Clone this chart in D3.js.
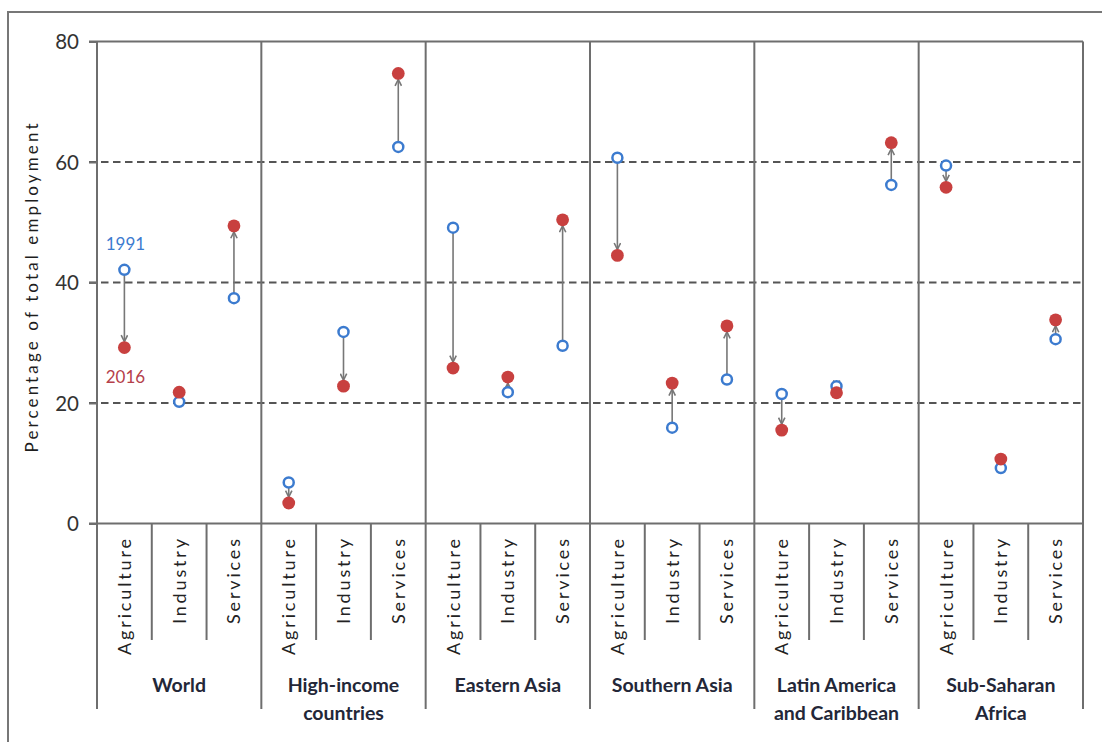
<!DOCTYPE html>
<html>
<head>
<meta charset="utf-8">
<script src="https://cdn.jsdelivr.net/npm/d3@7/dist/d3.min.js"></script>
<style>
  html, body { margin: 0; padding: 0; background: #fff; }
  svg { display: block; font-family: Lato, "Open Sans", sans-serif; }
</style>
</head>
<body>
<svg id="chart" width="1102" height="742"></svg>
<script>
// Employment share by sector, 1991 vs 2016
const regions = ["World", "High-income countries", "Eastern Asia", "Southern Asia",
                 "Latin America and Caribbean", "Sub-Saharan Africa"];
const regionLabelLines = [["World"], ["High-income", "countries"], ["Eastern Asia"],
                          ["Southern Asia"], ["Latin America", "and Caribbean"], ["Sub-Saharan", "Africa"]];
const sectors = ["Agriculture", "Industry", "Services"];
const values1991 = [
  [42.1, 20.2, 37.4],
  [6.8, 31.8, 62.5],
  [49.1, 21.8, 29.5],
  [60.7, 15.9, 23.9],
  [21.5, 22.8, 56.2],
  [59.4, 9.2, 30.6]
];
const values2016 = [
  [29.2, 21.8, 49.4],
  [3.4, 22.8, 74.7],
  [25.8, 24.3, 50.4],
  [44.5, 23.3, 32.8],
  [15.5, 21.7, 63.2],
  [55.8, 10.7, 33.8]
];
const yTicks = [0, 20, 40, 60, 80];
const gridTicks = [20, 40, 60];
const yearLabels = ["1991", "2016"];

const svg = d3.select("#chart");
const frameColor = "#6e6e6e";
const blue = "#3c7bcf";
const red = "#c8403f";

const plotLeft = 97, plotRight = 1083, plotTop = 41.5, axisY = 523.5;
const subBottom = 640, groupBottom = 709;

const y = d3.scaleLinear().domain([0, 80]).range([axisY, plotTop]);
const xGroup = d3.scaleBand().domain(regions).range([plotLeft, plotRight]);
const xSector = d3.scaleBand().domain(sectors).range([0, xGroup.bandwidth()]);

// table of points
const points = [];
regions.forEach((r, i) => sectors.forEach((s, j) => {
  points.push({
    region: r, sector: s,
    x: xGroup(r) + xSector(s) + xSector.bandwidth() / 2,
    v1: values1991[i][j], v2: values2016[i][j]
  });
}));

// outer frame
svg.append("rect")
  .attr("x", 8).attr("y", 12).attr("width", 1110).attr("height", 760)
  .attr("fill", "none").attr("stroke", "#777").attr("stroke-width", 2);

// dashed gridlines
svg.append("g").selectAll("line").data(gridTicks).join("line")
  .attr("x1", plotLeft - 8).attr("x2", plotRight)
  .attr("y1", d => y(d)).attr("y2", d => y(d))
  .attr("stroke", "#555").attr("stroke-width", 2)
  .attr("stroke-dasharray", "7.5,4.5");

// solid lines at 0 and 80
svg.append("g").selectAll("line").data([0, 80]).join("line")
  .attr("x1", plotLeft - 8).attr("x2", plotRight)
  .attr("y1", d => y(d)).attr("y2", d => y(d))
  .attr("stroke", frameColor).attr("stroke-width", 2);

// y axis ticks and labels
const yAxis = d3.axisLeft(y).tickValues(yTicks).tickSize(8).tickPadding(10);
const ga = svg.append("g").attr("transform", `translate(${plotLeft},0)`).call(yAxis);
ga.select(".domain").remove();
ga.selectAll(".tick line").attr("stroke", frameColor).attr("stroke-width", 2);
ga.selectAll(".tick text")
  .attr("font-family", "Lato, sans-serif")
  .attr("font-size", 20.5).attr("fill", "#333")
  .attr("dy", "0.36em");

// region dividers (full height)
const groupEdges = regions.map(r => xGroup(r)).concat([plotRight]);
svg.append("g").selectAll("line").data(groupEdges).join("line")
  .attr("x1", d => d).attr("x2", d => d)
  .attr("y1", plotTop).attr("y2", groupBottom)
  .attr("stroke", frameColor).attr("stroke-width", 2);

// sector dividers under the axis
const subEdges = [];
regions.forEach(r => sectors.slice(1).forEach(s => subEdges.push(xGroup(r) + xSector(s))));
svg.append("g").selectAll("line").data(subEdges).join("line")
  .attr("x1", d => d).attr("x2", d => d)
  .attr("y1", axisY).attr("y2", subBottom)
  .attr("stroke", frameColor).attr("stroke-width", 2);

// sector labels (rotated)
const sectorLen = { "Agriculture": 116, "Industry": 85, "Services": 85 };
svg.append("g").selectAll("text").data(points).join("text")
  .attr("transform", d => `translate(${d.x + 6.5},539) rotate(-90)`)
  .attr("text-anchor", "end")
  .attr("font-size", 18).attr("fill", "#222")
  .attr("textLength", d => sectorLen[d.sector])
  .attr("lengthAdjust", "spacing")
  .text(d => d.sector);

// region labels
const rl = svg.append("g").selectAll("text").data(regions).join("text")
  .attr("x", d => xGroup(d) + xGroup.bandwidth() / 2)
  .attr("y", 692)
  .attr("text-anchor", "middle")
  .attr("font-size", 19.5).attr("font-weight", "bold").attr("fill", "#232738");
rl.selectAll("tspan").data((d, i) => regionLabelLines[i]).join("tspan")
  .attr("x", function () { return d3.select(this.parentNode).attr("x"); })
  .attr("dy", (d, i) => i === 0 ? 0 : 28)
  .text(d => d);

// y axis title
svg.append("text")
  .attr("transform", "translate(37.5,288) rotate(-90)")
  .attr("text-anchor", "middle")
  .attr("font-size", 17).attr("fill", "#1e1e1e")
  .attr("textLength", 329).attr("lengthAdjust", "spacing")
  .text("Percentage of total employment");

// arrowhead
svg.append("defs").append("marker")
  .attr("id", "arrow").attr("viewBox", "0 0 10 10")
  .attr("refX", 9).attr("refY", 5)
  .attr("markerWidth", 8).attr("markerHeight", 8)
  .attr("markerUnits", "userSpaceOnUse")
  .attr("orient", "auto")
  .append("path").attr("d", "M1,1 L9,5 L1,9")
  .attr("fill", "none").attr("stroke", "#777").attr("stroke-width", 2);

// change arrows from 1991 to 2016
svg.append("g").selectAll("line").data(points).join("line")
  .attr("x1", d => d.x).attr("x2", d => d.x)
  .attr("y1", d => y(d.v1))
  .attr("y2", d => {
    const dir = Math.sign(y(d.v2) - y(d.v1));
    return y(d.v2) - dir * 6;
  })
  .attr("stroke", "#777").attr("stroke-width", 1.6)
  .attr("marker-end", "url(#arrow)");

// 1991 markers
svg.append("g").selectAll("circle").data(points).join("circle")
  .attr("cx", d => d.x).attr("cy", d => y(d.v1)).attr("r", 5)
  .attr("fill", "#fff").attr("stroke", blue).attr("stroke-width", 2.5);

// 2016 markers
svg.append("g").selectAll("circle").data(points).join("circle")
  .attr("cx", d => d.x).attr("cy", d => y(d.v2)).attr("r", 6.4)
  .attr("fill", red);

// year labels next to the World agriculture pair
const w = points[0];
svg.append("text")
  .attr("x", w.x + 1).attr("y", 250)
  .attr("text-anchor", "middle").attr("font-size", 17).attr("fill", blue)
  .text(yearLabels[0]);
svg.append("text")
  .attr("x", w.x + 1).attr("y", 383)
  .attr("text-anchor", "middle").attr("font-size", 17).attr("fill", "#b5404a")
  .text(yearLabels[1]);
</script>
</body>
</html>
